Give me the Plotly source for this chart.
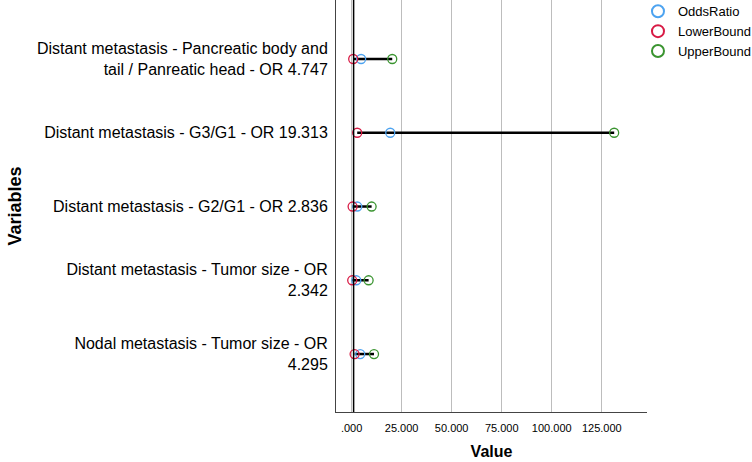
import plotly.graph_objects as go

categories = [
    "Distant metastasis - Pancreatic body and<br>tail / Panreatic head - OR 4.747",
    "Distant metastasis - G3/G1 - OR 19.313",
    "Distant metastasis - G2/G1 - OR 2.836",
    "Distant metastasis - Tumor size - OR<br>2.342",
    "Nodal metastasis - Tumor size - OR<br>4.295",
]
odds_ratio = [4.747, 19.313, 2.836, 2.342, 4.295]
lower_bound = [0.8, 2.8, 0.5, 0.3, 1.5]
upper_bound = [20.3, 131.2, 10.0, 8.5, 11.2]
tick_vals = [0, 25, 50, 75, 100, 125]
tick_text = [".000", "25.000", "50.000", "75.000", "100.000", "125.000"]
ref_value = 1

FONT = "Arial, Liberation Sans, sans-serif"
BLUE = "#4da3f0"
RED = "#d81b45"
GREEN = "#3a9430"

fig = go.Figure()

# CI lines
xs, ys = [], []
for c, lo, up in zip(categories, lower_bound, upper_bound):
    xs += [lo, up, None]
    ys += [c, c, None]
fig.add_trace(go.Scatter(x=xs, y=ys, mode="lines", line=dict(color="black", width=2.5),
                         showlegend=False, hoverinfo="skip"))

for name, vals, col in [("OddsRatio", odds_ratio, BLUE),
                        ("LowerBound", lower_bound, RED),
                        ("UpperBound", upper_bound, GREEN)]:
    fig.add_trace(go.Scatter(x=vals, y=categories, mode="markers", name=name,
                             marker=dict(symbol="circle-open", size=9, color=col,
                                         line=dict(width=1.3, color=col))))

fig.add_vline(x=ref_value, line=dict(color="black", width=1.5))

fig.update_layout(
    width=752, height=462,
    margin=dict(l=336, r=105, t=0, b=50, autoexpand=False),
    paper_bgcolor="white", plot_bgcolor="white",
    font=dict(family=FONT, color="black"),
    legend=dict(x=0.971, y=1.009, xanchor="left", yanchor="top",
                font=dict(size=13, family=FONT), bgcolor="rgba(0,0,0,0)",
                itemsizing="constant", tracegroupgap=0),
    xaxis=dict(range=[-7.8, 147.6], tickvals=tick_vals, ticktext=tick_text,
               tickfont=dict(size=11), showgrid=True, gridcolor="#bdbdbd", gridwidth=1,
               zeroline=False, showline=True, linecolor="#444444", linewidth=1,
               ticks="", automargin=False, ticklabelstandoff=6,
               title=dict(text="<b>Value</b>", font=dict(size=16), standoff=12)),
    yaxis=dict(type="category", categoryorder="array", categoryarray=categories,
               range=[4.786, -0.8], tickfont=dict(size=16), showgrid=False,
               zeroline=False, showline=True, linecolor="#444444", linewidth=1,
               ticks="", ticklabelstandoff=4, automargin=False,
               title=dict(text="<b>Variables</b>", font=dict(size=18), standoff=10)),
)

fig.write_html("out.html", config={"displayModeBar": False},
               post_script="document.body.style.margin='0';")
